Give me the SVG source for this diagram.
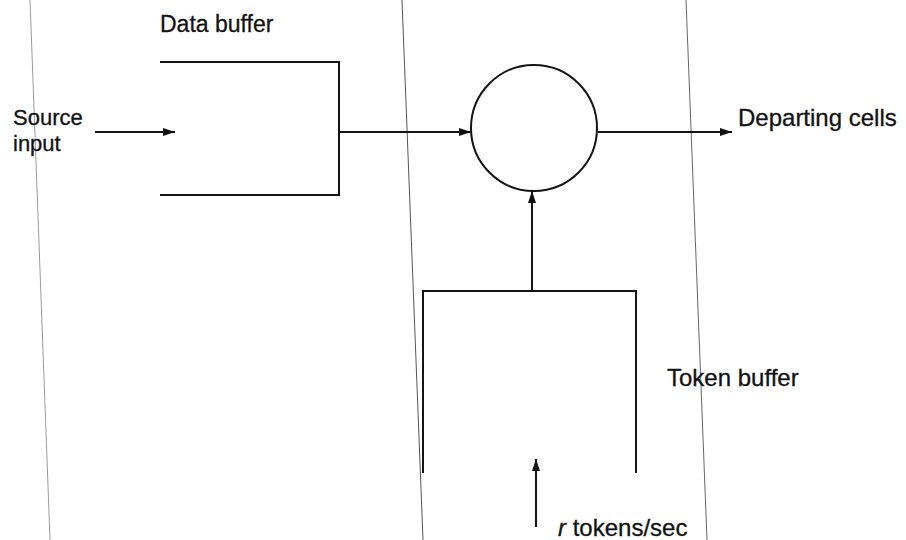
<svg xmlns="http://www.w3.org/2000/svg" width="906" height="540" viewBox="0 0 906 540">
<style>
.ln{stroke:#141414;stroke-width:2;fill:none}
.edge{stroke-width:1;fill:none}
.t{font-family:"Liberation Sans",Arial,sans-serif;font-size:24px;fill:#111;stroke:#111;stroke-width:0.3}
</style>
<defs>
<marker id="ah" viewBox="0 0 12 8" refX="12" refY="4" markerWidth="13" markerHeight="8" markerUnits="userSpaceOnUse" orient="auto">
<path d="M0,0 L12,4 L0,8 Z" fill="#111"/>
</marker>
</defs>
<rect width="906" height="540" fill="#fff"/>
<g id="page-edges">
<line class="edge" x1="30" y1="0" x2="50" y2="540" stroke="#9a9a9a"/>
<line class="edge" x1="402" y1="0" x2="423" y2="540" stroke="#555"/>
<line class="edge" x1="686" y1="0" x2="707" y2="540" stroke="#666"/>
</g>
<g id="data-buffer">
<path class="ln" d="M160,62 H339 V195 H160"/>
<text class="t" x="160" y="32" style="font-size:23px">Data buffer</text>
</g>
<g id="source-input">
<text class="t" x="13" y="125" style="font-size:22px">Source</text>
<text class="t" x="13" y="151" style="font-size:22px">input</text>
</g>
<g id="server">
<circle class="ln" cx="534" cy="128" r="63"/>
</g>
<g id="token-buffer">
<path class="ln" d="M423,473 V291 H636 V473"/>
<text class="t" x="667" y="386">Token buffer</text>
</g>
<g id="departing">
<text class="t" x="738" y="126">Departing cells</text>
</g>
<g id="token-rate">
<text class="t" x="558" y="536"><tspan font-style="italic">r</tspan> tokens/sec</text>
</g>
<g id="connectors">
<line class="ln" x1="95" y1="132" x2="175" y2="132" marker-end="url(#ah)"/>
<line class="ln" x1="339" y1="132" x2="471" y2="132" marker-end="url(#ah)"/>
<line class="ln" x1="598" y1="132" x2="732" y2="132" marker-end="url(#ah)"/>
<line class="ln" x1="532" y1="291" x2="532" y2="191" marker-end="url(#ah)"/>
<line class="ln" x1="536" y1="527" x2="536" y2="459" marker-end="url(#ah)"/>
</g>
</svg>
